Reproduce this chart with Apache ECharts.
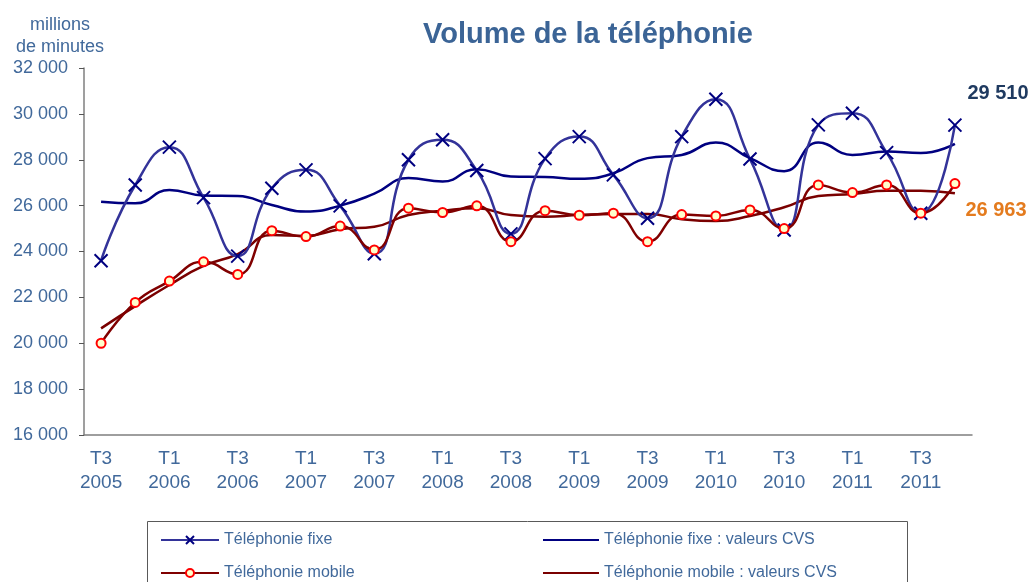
<!DOCTYPE html>
<html>
<head>
<meta charset="utf-8">
<script src="https://cdn.jsdelivr.net/npm/echarts@6/dist/echarts.min.js"></script>
<style>
  html, body { margin: 0; padding: 0; background: #fff; }
  #chart { width: 1035px; height: 582px; }
</style>
</head>
<body>
<div id="chart"></div>
<script>
    // trimestres T3 2005 .. T4 2011
    var quarters = ['T3\n2005', 'T4\n2005',
        'T1\n2006', 'T2\n2006', 'T3\n2006', 'T4\n2006',
        'T1\n2007', 'T2\n2007', 'T3\n2007', 'T4\n2007',
        'T1\n2008', 'T2\n2008', 'T3\n2008', 'T4\n2008',
        'T1\n2009', 'T2\n2009', 'T3\n2009', 'T4\n2009',
        'T1\n2010', 'T2\n2010', 'T3\n2010', 'T4\n2010',
        'T1\n2011', 'T2\n2011', 'T3\n2011', 'T4\n2011'];

    // millions de minutes
    var fixe = [23600, 26900, 28550, 26350, 23800, 26760, 27560, 25990, 23900, 28000,
        28870, 27530, 24770, 28050, 29010, 27340, 25450, 29010, 30640, 28030,
        24940, 29520, 30030, 28310, 25670, 29510];
    var fixeCVS = [26170, 26100, 26680, 26440, 26420, 26030, 25740, 26000, 26520, 27200,
        27050, 27590, 27270, 27250, 27170, 27410, 28070, 28210, 28750, 28070,
        27500, 28750, 28210, 28360, 28290, 28690];
    var mobile = [20000, 21780, 22710, 23550, 23000, 24910, 24650, 25110, 24070, 25890,
        25700, 25990, 24430, 25780, 25580, 25670, 24430, 25610, 25550, 25810,
        25000, 26900, 26570, 26900, 25670, 26963];
    var mobileCVS = [20650, 21620, 22540, 23370, 23890, 24720, 24680, 24970, 25080, 25590,
        25780, 25890, 25590, 25520, 25590, 25630, 25630, 25410, 25330, 25550,
        25930, 26420, 26510, 26650, 26650, 26540];

    var blueText = '#41699B';

    function fmt(v) {
        return String(v).replace(/\B(?=(\d{3})+(?!\d))/g, ' ');
    }

    // dernier point avec son étiquette
    function withEndLabel(arr, color, dy) {
        return arr.map(function(v, i) {
            if (i !== arr.length - 1) return v;
            return {
                value: v,
                label: {
                    show: true,
                    position: 'right',
                    distance: 5,
                    offset: [0, dy],
                    color: color,
                    fontSize: 20,
                    fontWeight: 'bold',
                    fontFamily: 'Liberation Sans, Arial, sans-serif',
                    formatter: function(p) { return fmt(p.value); }
                }
            };
        });
    }

    var legendText = { color: blueText, fontSize: 16, lineHeight: 18 };

    var myChart = echarts.init(document.getElementById('chart'));
    var option = {
        animation: false,
        textStyle: { fontFamily: 'Liberation Sans, Arial, sans-serif' },
        title: [{
            text: 'Volume de la téléphonie',
            left: 418,
            top: 15,
            textStyle: { color: '#3B6496', fontSize: 29, fontWeight: 'bold' }
        }, {
            text: 'millions\nde minutes',
            left: 55,
            textAlign: 'center',
            top: 9,
            textStyle: { color: blueText, fontSize: 18, fontWeight: 'normal', lineHeight: 22 }
        }],
        grid: { left: 84, right: 63, top: 68, bottom: 147 },
        legend: [{
            orient: 'vertical',
            left: 160,
            top: 531,
            padding: 0,
            itemWidth: 58,
            itemHeight: 10,
            itemGap: 15,
            textStyle: legendText,
            data: ['Téléphonie fixe', 'Téléphonie mobile']
        }, {
            orient: 'vertical',
            left: 542,
            top: 531,
            padding: 0,
            itemWidth: 56,
            itemHeight: 10,
            itemGap: 15,
            textStyle: legendText,
            data: [
                { name: 'Téléphonie fixe : valeurs CVS', itemStyle: { opacity: 0 } },
                { name: 'Téléphonie mobile : valeurs CVS', itemStyle: { opacity: 0 } }
            ]
        }],
        graphic: [{
            type: 'rect',
            left: 145,
            top: 519,
            shape: { width: 760, height: 80 },
            style: { fill: 'none', stroke: '#595959', lineWidth: 1 }
        }],
        xAxis: {
            type: 'category',
            data: quarters,
            boundaryGap: true,
            axisLine: { lineStyle: { color: '#7f7f7f', width: 1.5 } },
            axisTick: { interval: 0, length: 5, lineStyle: { color: '#555' } },
            axisLabel: { interval: 1, color: blueText, fontSize: 19, lineHeight: 24, margin: 12 }
        },
        yAxis: {
            type: 'value',
            min: 16000,
            max: 32000,
            interval: 2000,
            splitLine: { show: false },
            axisLine: { show: true, lineStyle: { color: '#7f7f7f', width: 1.5 } },
            axisTick: { show: true, length: 5, lineStyle: { color: '#555' } },
            axisLabel: { color: blueText, fontSize: 18, margin: 16, formatter: fmt }
        },
        series: [
            {
                name: 'Téléphonie fixe : valeurs CVS',
                type: 'line',
                smooth: true,
                showSymbol: false,
                symbol: 'none',
                data: fixeCVS,
                lineStyle: { color: '#000080', width: 2.5 },
                itemStyle: { color: '#000080' }
            },
            {
                name: 'Téléphonie mobile : valeurs CVS',
                type: 'line',
                smooth: true,
                showSymbol: false,
                symbol: 'none',
                data: mobileCVS,
                lineStyle: { color: '#7a0000', width: 2.5 },
                itemStyle: { color: '#7a0000' }
            },
            {
                name: 'Téléphonie fixe',
                type: 'line',
                smooth: true,
                symbol: 'path://M0,0L10,10M10,0L0,10',
                symbolSize: 13,
                data: withEndLabel(fixe, '#1F3A60', -32),
                lineStyle: { color: '#333399', width: 2.5 },
                itemStyle: { color: '#000080', borderColor: '#000080', borderWidth: 2 },
                z: 3
            },
            {
                name: 'Téléphonie mobile',
                type: 'line',
                smooth: true,
                symbol: 'circle',
                symbolSize: 9,
                data: withEndLabel(mobile, '#E47B1E', 27),
                lineStyle: { color: '#800000', width: 2.5 },
                itemStyle: { color: '#FFFFCC', borderColor: '#FF0000', borderWidth: 2 },
                z: 4
            }
        ]
    };
    myChart.setOption(option);
</script>
</body>
</html>
